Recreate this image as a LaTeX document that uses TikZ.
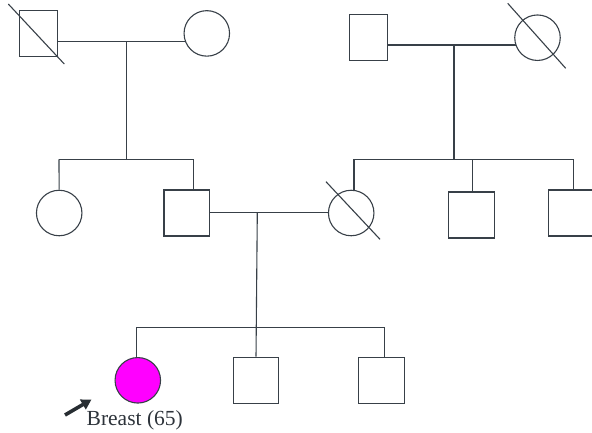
\documentclass[tikz,border=0pt]{standalone}
\usepackage{fontspec}
\setmainfont{Liberation Serif}
\usetikzlibrary{arrows.meta,backgrounds}
\definecolor{ink}{RGB}{56,64,72}
\definecolor{affected}{RGB}{255,0,255}
\begin{document}
\begin{tikzpicture}[x=1pt,y=-1pt,
  line/.style={draw=ink,line width=1.1pt},
  male/.style={line,fill=white,rectangle,minimum width=45.5pt,minimum height=46pt,inner sep=0pt},
  narrowmale/.style={male,minimum width=38pt},
  female/.style={line,fill=white,circle,minimum size=45.5pt,inner sep=0pt},
  patient/.style={female,fill=affected},
  deceased/.style={line},
  pointer/.style={draw=ink!70!black,line width=3.6pt,-{Triangle[length=10pt,width=11pt]}}]
\useasboundingbox (0,0) rectangle (592,432);

% generation I
\node[narrowmale] (gpA) at (38.3,33.7) {};
\node[female]     (gmA) at (206.8,33.4) {};
\node[narrowmale] (gpB) at (368.8,37.8) {};
\node[female]     (gmB) at (537.5,37.7) {};

% generation II
\node[female] (aunt)   at (59.2,213) {};
\node[male]   (father) at (186.7,213) {};
\node[female] (mother) at (351.2,213) {};
\node[male]   (uncleA) at (471.3,215) {};
\node[male]   (uncleB) at (570.8,213) {};

% generation III
\node[patient] (proband)  at (137.8,380.3) {};
\node[male]    (brotherA) at (255.8,380.2) {};
\node[male]    (brotherB) at (381.3,380.2) {};

% junction points of the family lines
\coordinate (mateA) at (126.3,41.7);
\coordinate (sibA)  at (126.3,159.3);
\coordinate (mateB) at (454,45);
\coordinate (sibB)  at (454,159.3);
\coordinate (mateC) at (257.3,212.3);
\coordinate (sibC)  at (257.3,327.3);

\begin{pgfonlayer}{background}
  % couple and descent lines
  \draw[line] (gpA |- mateA) -- (gmA |- mateA);
  \draw[line] (mateA) -- (sibA);
  \draw[line] (gpB |- mateB) -- (gmB |- mateB);
  \draw[line] (mateB) -- (sibB);
  \draw[line] (father |- mateC) -- (mother |- mateC);
  \draw[line] (mateC) -- (brotherA);
  % sibship lines
  \draw[line] (59,159.3) -- (193.7,159.3);
  \draw[line] (59,159.3) -- (aunt);
  \draw[line] (193.7,159.3) -- (193.7,200);
  \draw[line] (354,159.3) -- (573.3,159.3);
  \draw[line] (354,159.3) -- (354,200);
  \draw[line] (472.7,159.3) -- (472.7,200);
  \draw[line] (573.3,159.3) -- (573.3,200);
  \draw[line] (136.7,327.3) -- (384.3,327.3);
  \draw[line] (136.7,327.3) -- (136.7,370);
  \draw[line] (384.3,327.3) -- (384.3,370);
\end{pgfonlayer}

% deceased marks
\coordinate (dA1) at (8.3,4);    \coordinate (dA2) at (64.3,64);
\coordinate (dB1) at (507.7,3.3); \coordinate (dB2) at (565.7,68.3);
\coordinate (dC1) at (326,181.7); \coordinate (dC2) at (380,239.3);
\draw[deceased] (dA1) -- (dA2);
\draw[deceased] (dB1) -- (dB2);
\draw[deceased] (dC1) -- (dC2);

% proband label and arrow
\node[anchor=base west,inner sep=0pt,font=\fontsize{21.5}{24}\selectfont,text=ink!80!black] (label) at (86.5,425) {Breast (65)};
\coordinate (tail) at (65,415);
\coordinate (tip)  at (91.5,399.5);
\draw[pointer] (tail) -- (tip);
\end{tikzpicture}
\end{document}
